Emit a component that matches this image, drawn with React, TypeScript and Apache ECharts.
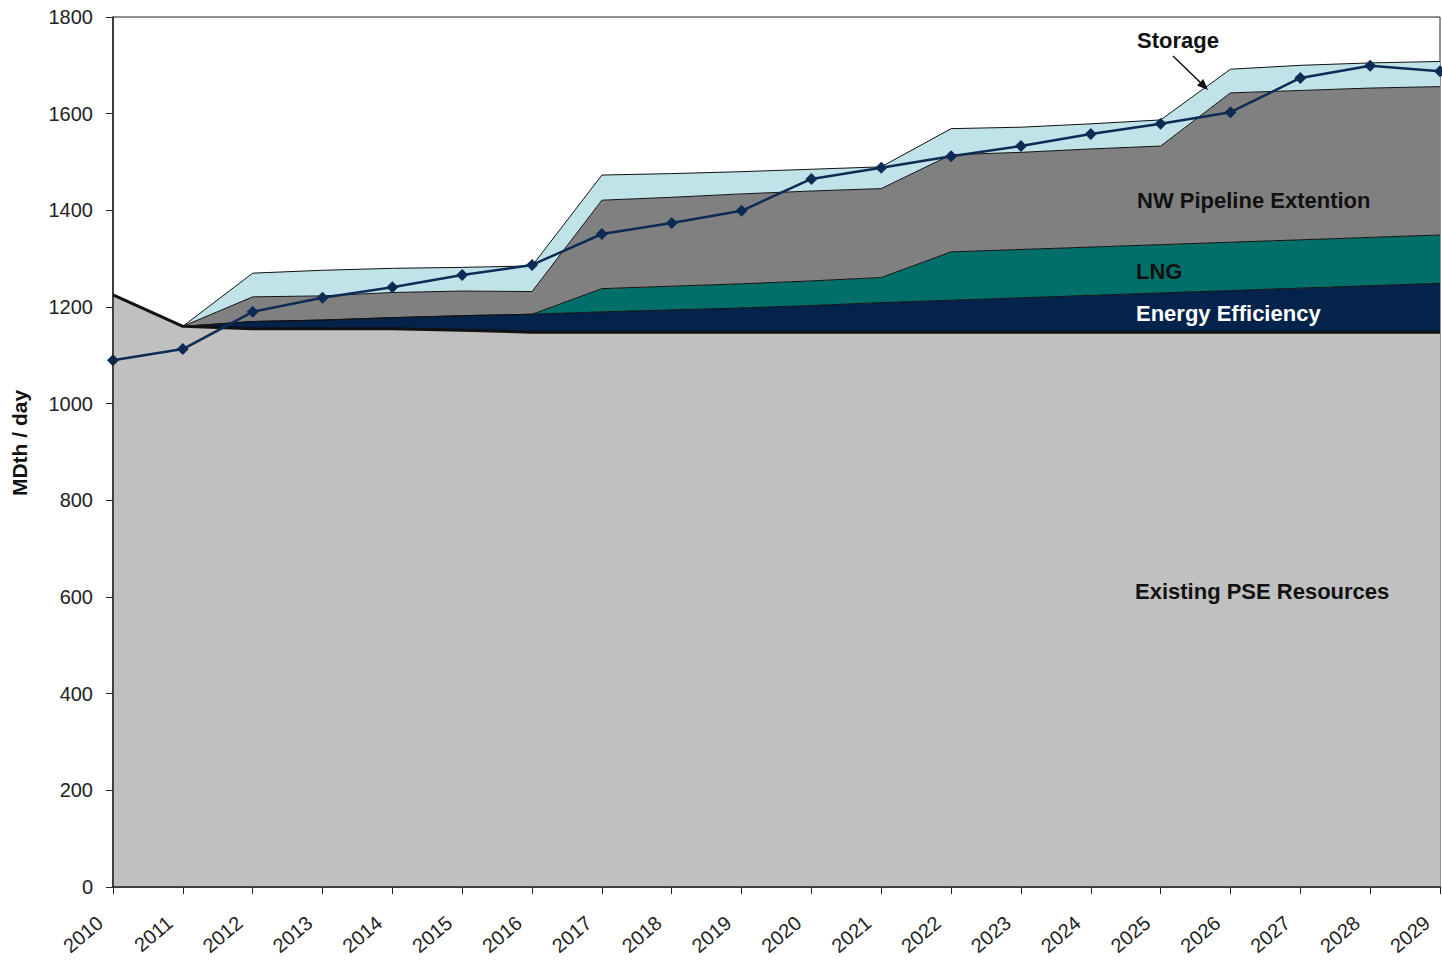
import React, { useEffect, useRef } from "react";
import * as echarts from "echarts";

const years = ["2010","2011","2012","2013","2014","2015","2016","2017","2018","2019","2020","2021","2022","2023","2024","2025","2026","2027","2028","2029"];
const existing = [1225,1160,1155,1155,1155,1152,1148,1148,1148,1148,1148,1148,1148,1148,1148,1148,1148,1148,1148,1148];
const energyEfficiency = [0,0,15,18,23,30,37,42,46,50,55,61,66,71,76,81,86,91,96,101];
const lng = [0,0,0,0,0,0,0,48,49,50,51,52,100,100,100,100,100,100,100,100];
const pipeline = [0,0,51,50,52,51,47,183,184,186,186,184,201,201,203,204,309,309,309,307];
const storage = [0,0,49,53,50,49,53,52,49,46,45,45,54,52,52,54,49,52,52,52];
const demand = [1090,1113,1190,1219,1241,1266,1287,1351,1374,1399,1465,1488,1512,1533,1558,1579,1603,1674,1699,1688];
const yTicks = { min: 0, max: 1800, interval: 200 };

const FONT = "'Liberation Sans', Arial, sans-serif";

function areaSeries(name: string, data: number[], color: string, lineW = 1) {
  return {
    name,
    type: "line",
    stack: "supply",
    data,
    symbol: "none",
    lineStyle: { color: "#111", width: lineW },
    areaStyle: { color, opacity: 1 },
    z: 2,
  };
}

export default function App() {
  const ref = useRef<HTMLDivElement>(null);
  useEffect(() => {
    if (!ref.current) return;
    document.body.style.margin = "0";
    const chart = echarts.init(ref.current, undefined, { renderer: "svg" });
    const tipX = 1208, tipY = 90;
    const dx = 35, dy = 34;
    const len = Math.sqrt(dx * dx + dy * dy);
    const ux = dx / len, uy = dy / len;
    const bx = tipX - 11 * ux, by = tipY - 11 * uy;
    const px = -uy, py = ux;
    const label = (text: string, x: number, y: number, fill = "#111") => ({
      type: "text",
      x, y, z: 20,
      style: { text, font: `bold 22px ${FONT}`, fill, align: "left", verticalAlign: "middle" },
    });
    chart.setOption({
      animation: false,
      backgroundColor: "#ffffff",
      textStyle: { fontFamily: FONT },
      grid: {
        left: 113, right: 2, top: 17, bottom: 73,
        show: true, borderColor: "#222", borderWidth: 1, backgroundColor: "#fff",
        containLabel: false,
      },
      xAxis: {
        type: "category",
        data: years,
        boundaryGap: false,
        axisLine: { lineStyle: { color: "#222", width: 1.5 } },
        axisTick: { show: true, length: 7, lineStyle: { color: "#222" }, alignWithLabel: true },
        axisLabel: {
          rotate: 40, fontSize: 20, color: "#222", fontFamily: FONT,
          margin: 22, interval: 0, padding: [0, 17, 0, 0],
        },
        splitLine: { show: false },
        z: 10,
      },
      yAxis: {
        type: "value",
        min: yTicks.min, max: yTicks.max, interval: yTicks.interval,
        name: "MDth / day",
        nameLocation: "middle",
        nameGap: 83,
        nameTextStyle: { fontSize: 21, fontWeight: "bold", color: "#111", fontFamily: FONT, padding: [0, 0, 0, 18] },
        axisLine: { show: true, lineStyle: { color: "#222", width: 1.5 } },
        axisTick: { show: true, length: 7, lineStyle: { color: "#222" } },
        axisLabel: { fontSize: 20, color: "#222", fontFamily: FONT, margin: 20, formatter: (v: number) => String(v) },
        splitLine: { show: false },
        z: 10,
      },
      series: [
        areaSeries("Existing PSE Resources", existing, "#c0c0c0", 3),
        areaSeries("Energy Efficiency", energyEfficiency, "#03224c"),
        areaSeries("LNG", lng, "#006f6a"),
        areaSeries("NW Pipeline Extention", pipeline, "#808080"),
        areaSeries("Storage", storage, "#bfe3e9"),
        {
          name: "Demand",
          type: "line",
          data: demand,
          symbol: "diamond",
          symbolSize: 12,
          itemStyle: { color: "#0d2b55" },
          lineStyle: { color: "#0d2b55", width: 2.5 },
          z: 5,
        },
      ],
      graphic: [
        label("Storage", 1137, 40),
        { type: "line", shape: { x1: 1173, y1: 56, x2: bx, y2: by }, style: { stroke: "#111", lineWidth: 1.5 }, z: 20 },
        {
          type: "polygon",
          shape: { points: [[tipX, tipY], [bx + 4.5 * px, by + 4.5 * py], [bx - 4.5 * px, by - 4.5 * py]] },
          style: { fill: "#111" }, z: 20,
        },
        label("NW Pipeline Extention", 1137, 200),
        label("LNG", 1136, 271),
        label("Energy Efficiency", 1136, 313, "#ffffff"),
        label("Existing PSE Resources", 1135, 591),
      ],
    });
    return () => chart.dispose();
  }, []);
  return (
    <div
      ref={ref}
      style={{ position: "fixed", left: 0, top: 0, width: 1442, height: 960, background: "#fff" }}
    />
  );
}
